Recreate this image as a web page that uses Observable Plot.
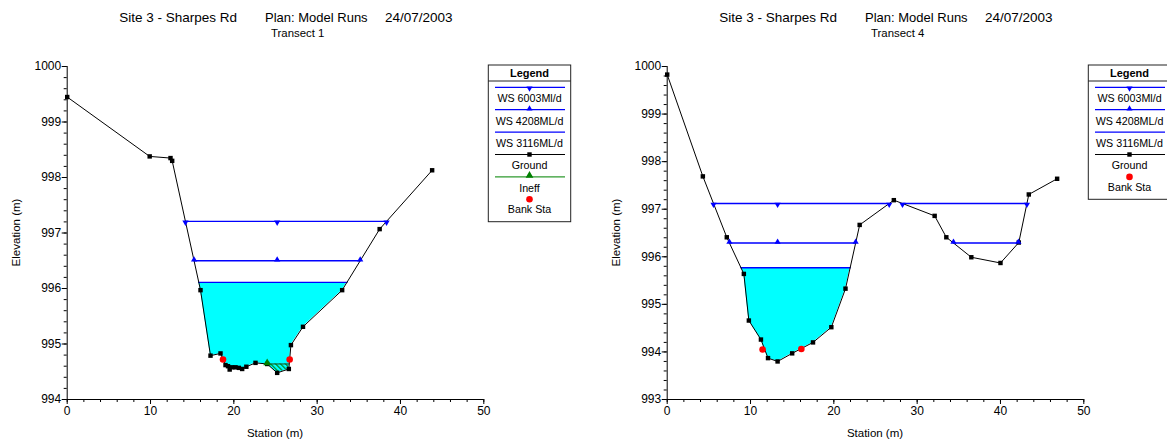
<!DOCTYPE html>
<html>
<head>
<meta charset="utf-8">
<script src="https://cdn.jsdelivr.net/npm/d3@7"></script>
<script src="https://cdn.jsdelivr.net/npm/@observablehq/plot@0.6"></script>
<style>
  html, body { margin: 0; padding: 0; background: #fff; }
  body { width: 1167px; height: 441px; overflow: hidden; position: relative; }
  .panel { position: absolute; top: 0; width: 600px; height: 441px; }
</style>
</head>
<body>
<div id="p1" class="panel" style="left:0px"></div>
<div id="p2" class="panel" style="left:600px"></div>
<script>
// ---------------- DATA ----------------
const siteTitle = "Site 3 - Sharpes Rd";
const planTitle = "Plan: Model Runs";
const dateTitle = "24/07/2003";
const xLabel = "Station (m)";
const yLabel = "Elevation (m)";
const xTicks = [0, 10, 20, 30, 40, 50];

// Transect 1
const t1Name = "Transect 1";
const t1Station = [0, 9.9, 12.4, 12.6, 16.0, 17.2, 18.4, 19.0, 19.3, 19.5, 19.8, 20.2, 20.6, 21.0, 21.5, 22.6, 24.0, 25.2, 26.6, 26.85, 28.3, 33.0, 37.5, 43.8];
const t1Elev    = [999.45, 998.38, 998.35, 998.30, 995.97, 994.79, 994.83, 994.62, 994.60, 994.54, 994.58, 994.58, 994.57, 994.55, 994.59, 994.66, 994.64, 994.48, 994.55, 994.98, 995.31, 995.97, 997.07, 998.13];
const t1BankStation = [18.7, 26.7];
const t1BankElev    = [994.72, 994.72];
const t1WS = [997.21, 996.50, 996.11];       // WS 6003, WS 4208, WS 3116
const t1IneffStation = [24.0, 26.6];
const t1IneffElev = 994.64;
const t1YTicks = [994, 995, 996, 997, 998, 999, 1000];
const t1Legend = ["WS 6003Ml/d", "WS 4208ML/d", "WS 3116ML/d", "Ground", "Ineff", "Bank Sta"];

// Transect 4
const t4Name = "Transect 4";
const t4Station = [0, 4.28, 7.15, 9.2, 9.8, 11.25, 12.1, 13.25, 15.0, 17.5, 19.7, 21.4, 23.1, 27.2, 32.1, 33.5, 36.5, 40.0, 42.2, 43.4, 46.8];
const t4Elev    = [999.83, 997.69, 996.41, 995.64, 994.66, 994.26, 993.87, 993.80, 993.97, 994.20, 994.52, 995.33, 996.67, 997.19, 996.86, 996.41, 995.99, 995.87, 996.30, 997.31, 997.64];
const t4BankStation = [11.45, 16.1];
const t4BankElev    = [994.05, 994.06];
const t4WS = [997.12, 996.29, 995.77];
const t4YTicks = [993, 994, 995, 996, 997, 998, 999, 1000];
const t4Legend = ["WS 6003Ml/d", "WS 4208ML/d", "WS 3116ML/d", "Ground", "Bank Sta"];

// ---------------- HELPERS ----------------
const FONT = '"Liberation Sans", Arial, Helvetica, sans-serif';
const BLUE = "#0000ff";
const CYAN = "#00ffff";
const GREEN = "#008000";
const HATCH_KEY = "#00fe01";

function wetIntervals(ground, level) {
  const out = [];
  let cur = null;
  for (let i = 0; i < ground.length; i++) {
    const g = ground[i];
    if (i > 0) {
      const p = ground[i - 1];
      if ((p.y >= level) !== (g.y >= level)) {
        const xc = p.x + (level - p.y) / (g.y - p.y) * (g.x - p.x);
        if (g.y < level) cur = [{x: xc, y: level}];
        else if (cur) { cur.push({x: xc, y: level}); out.push(cur); cur = null; }
      }
    }
    if (g.y < level && cur) cur.push(g);
  }
  return out;
}

function makePanel(el, cfg) {
  const ground = cfg.station.map((s, i) => ({x: s, y: cfg.elev[i]}));
  const banks = cfg.bankStation.map((s, i) => ({x: s, y: cfg.bankElev[i]}));
  const thalweg = d3.least(ground, d => d.y).x;
  const [yMin, yMax] = d3.extent(cfg.yTicks);

  const segLines = (level) => wetIntervals(ground, level).flatMap((iv, k) =>
    [{x: iv[0].x, y: level, seg: k}, {x: iv[iv.length - 1].x, y: level, seg: k}]);
  const segMarks = (level) => {
    const ivs = wetIntervals(ground, level);
    const ends = ivs.flatMap(iv => [{x: iv[0].x, y: level}, {x: iv[iv.length - 1].x, y: level}]);
    return ends.concat([{x: thalweg, y: level}]);
  };

  const ws1 = cfg.ws[0], ws2 = cfg.ws[1], ws3 = cfg.ws[2];
  const fillPts = wetIntervals(ground, ws3).flat();

  const marks = [];
  marks.push(Plot.areaY(fillPts, {x: "x", y1: "y", y2: ws3, fill: CYAN}));
  if (cfg.ineffStation) {
    const [a, b] = cfg.ineffStation;
    const hp = ground.filter(d => d.x >= a && d.x <= b);
    marks.push(Plot.areaY(hp, {x: "x", y1: "y", y2: cfg.ineffElev, fill: HATCH_KEY}));
    marks.push(Plot.line([{x: a, y: cfg.ineffElev}, {x: b, y: cfg.ineffElev}], {x: "x", y: "y", stroke: "#1a4d1a", strokeWidth: 1}));
  }
  marks.push(Plot.line(segLines(ws3), {x: "x", y: "y", z: "seg", stroke: BLUE, strokeWidth: 1.3}));
  marks.push(Plot.line(segLines(ws2), {x: "x", y: "y", z: "seg", stroke: BLUE, strokeWidth: 1.3}));
  marks.push(Plot.line(segLines(ws1), {x: "x", y: "y", z: "seg", stroke: BLUE, strokeWidth: 1.3}));
  marks.push(Plot.line(ground, {x: "x", y: "y", stroke: "black", strokeWidth: 1}));
  marks.push(Plot.dot(ground, {x: "x", y: "y", symbol: "square", r: 2.5, fill: "black", stroke: "none"}));
  marks.push(Plot.dot(segMarks(ws2), {x: "x", y: "y", symbol: "triangle", r: 2.3, fill: BLUE, stroke: "none", dy: -1}));
  marks.push(Plot.dot(segMarks(ws1), {x: "x", y: "y", symbol: "triangle", r: 2.3, fill: BLUE, stroke: "none", rotate: 180, dy: 1}));
  if (cfg.ineffStation) {
    marks.push(Plot.dot([{x: cfg.ineffStation[0], y: cfg.ineffElev}], {x: "x", y: "y", symbol: "triangle", r: 2.9, fill: GREEN, stroke: "none", dy: -1}));
  }
  marks.push(Plot.dot(banks, {x: "x", y: "y", r: 3.3, fill: "#ff0000", stroke: "none"}));
  // axes
  marks.push(Plot.axisX({ticks: d3.range(0, 51, 2), tickSize: 3, tickFormat: () => "", label: null}));
  marks.push(Plot.axisX({ticks: xTicks, tickSize: 5, tickPadding: 2, fontSize: 12, label: null, tickFormat: "d"}));
  marks.push(Plot.axisY({ticks: d3.range(yMin, yMax + 0.001, 0.2), tickSize: 3, tickFormat: () => "", label: null}));
  marks.push(Plot.axisY({ticks: cfg.yTicks, tickSize: 5, tickPadding: 1, fontSize: 12, label: null, tickFormat: "d"}));
  marks.push(Plot.ruleX([0], {y1: yMin, y2: yMax, stroke: "black"}));
  marks.push(Plot.ruleY([yMin], {x1: 0, x2: 50, stroke: "black"}));

  const svg = Plot.plot({
    width: 600, height: 441,
    marginLeft: 66.7, marginRight: 116.7, marginTop: 66, marginBottom: 42,
    x: {domain: [0, 50]},
    y: {domain: [yMin, yMax]},
    style: {fontFamily: FONT, background: "white", color: "black", overflow: "visible"},
    marks
  });

  const s = d3.select(svg);
  // hatch pattern for ineffective area
  const defs = s.insert("defs", ":first-child");
  const pid = "hatch-" + el.id;
  const pat = defs.append("pattern").attr("id", pid).attr("patternUnits", "userSpaceOnUse")
    .attr("width", 3.5).attr("height", 3.5).attr("patternTransform", "rotate(-45)");
  pat.append("rect").attr("width", 3.5).attr("height", 3.5).attr("fill", CYAN);
  pat.append("line").attr("x1", 0).attr("y1", 0).attr("x2", 0).attr("y2", 3.5).attr("stroke", GREEN).attr("stroke-width", 2.2);
  s.selectAll(`[fill="${HATCH_KEY}"]`).attr("fill", `url(#${pid})`);

  // titles
  const t = s.append("g").attr("font-family", FONT).attr("fill", "black").attr("text-anchor", "start");
  t.append("text").attr("x", 119.3).attr("y", 21.5).attr("font-size", 13.5).text(siteTitle);
  t.append("text").attr("x", 265).attr("y", 21.5).attr("font-size", 13).text(planTitle);
  t.append("text").attr("x", 385).attr("y", 21.5).attr("font-size", 13.5).text(dateTitle);
  t.append("text").attr("x", 271).attr("y", 37).attr("font-size", 11.4).text(cfg.name);
  t.append("text").attr("x", 275).attr("y", 437).attr("font-size", 11.5).attr("text-anchor", "middle").text(xLabel);
  t.append("text").attr("transform", "translate(20,232.5) rotate(-90)").attr("font-size", 11.5).attr("text-anchor", "middle").text(yLabel);

  // legend
  const bx = 488.3, by = 65, bw = 82.4, cx = bx + bw / 2;
  const n = cfg.legend.length;
  const lineY = i => 87.3 + i * 22.4;
  const bh = lineY(n - 1) + 14.2 + 8.2 - by;
  const lg = s.append("g").attr("font-family", FONT).attr("text-anchor", "middle");
  lg.append("rect").attr("x", bx).attr("y", by).attr("width", bw).attr("height", bh)
    .attr("fill", "white").attr("stroke", "#222").attr("stroke-width", 1);
  lg.append("line").attr("x1", bx).attr("x2", bx + bw).attr("y1", 81).attr("y2", 81).attr("stroke", "#222");
  lg.append("text").attr("x", cx).attr("y", 77).attr("font-size", 11).attr("font-weight", "bold").text("Legend");
  cfg.legend.forEach((name, i) => {
    const y = lineY(i);
    const kind = name.startsWith("WS") ? "ws" + i : name;
    if (kind !== "Bank Sta") {
      const col = kind === "Ground" ? "black" : kind === "Ineff" ? "#2e9a2e" : BLUE;
      lg.append("line").attr("x1", bx + 6.7).attr("x2", bx + 76.7).attr("y1", y).attr("y2", y)
        .attr("stroke", col).attr("stroke-width", 1.2);
    }
    if (kind === "ws0") {
      lg.append("path").attr("d", d3.symbol(d3.symbolTriangle, 16)()).attr("fill", BLUE)
        .attr("transform", `translate(${cx},${y + 1}) rotate(180)`);
    } else if (kind === "ws1") {
      lg.append("path").attr("d", d3.symbol(d3.symbolTriangle, 16)()).attr("fill", BLUE)
        .attr("transform", `translate(${cx},${y - 1})`);
    } else if (kind === "Ground") {
      lg.append("rect").attr("x", cx - 2.2).attr("y", y - 2.2).attr("width", 4.4).attr("height", 4.4).attr("fill", "black");
    } else if (kind === "Ineff") {
      lg.append("path").attr("d", d3.symbol(d3.symbolTriangle, 26)()).attr("fill", GREEN)
        .attr("transform", `translate(${cx},${y - 1.5})`);
    } else if (kind === "Bank Sta") {
      lg.append("circle").attr("cx", cx).attr("cy", y).attr("r", 3.3).attr("fill", "#ff0000");
    }
    lg.append("text").attr("x", cx).attr("y", y + (kind === "Bank Sta" ? 14 : 14.8))
      .attr("font-size", 10.7).attr("fill", "black").text(name);
  });

  el.appendChild(svg);
}

makePanel(document.getElementById("p1"), {
  name: t1Name, station: t1Station, elev: t1Elev,
  bankStation: t1BankStation, bankElev: t1BankElev,
  ws: t1WS, ineffStation: t1IneffStation, ineffElev: t1IneffElev,
  yTicks: t1YTicks, legend: t1Legend
});
makePanel(document.getElementById("p2"), {
  name: t4Name, station: t4Station, elev: t4Elev,
  bankStation: t4BankStation, bankElev: t4BankElev,
  ws: t4WS, ineffStation: null,
  yTicks: t4YTicks, legend: t4Legend
});
</script>
</body>
</html>
